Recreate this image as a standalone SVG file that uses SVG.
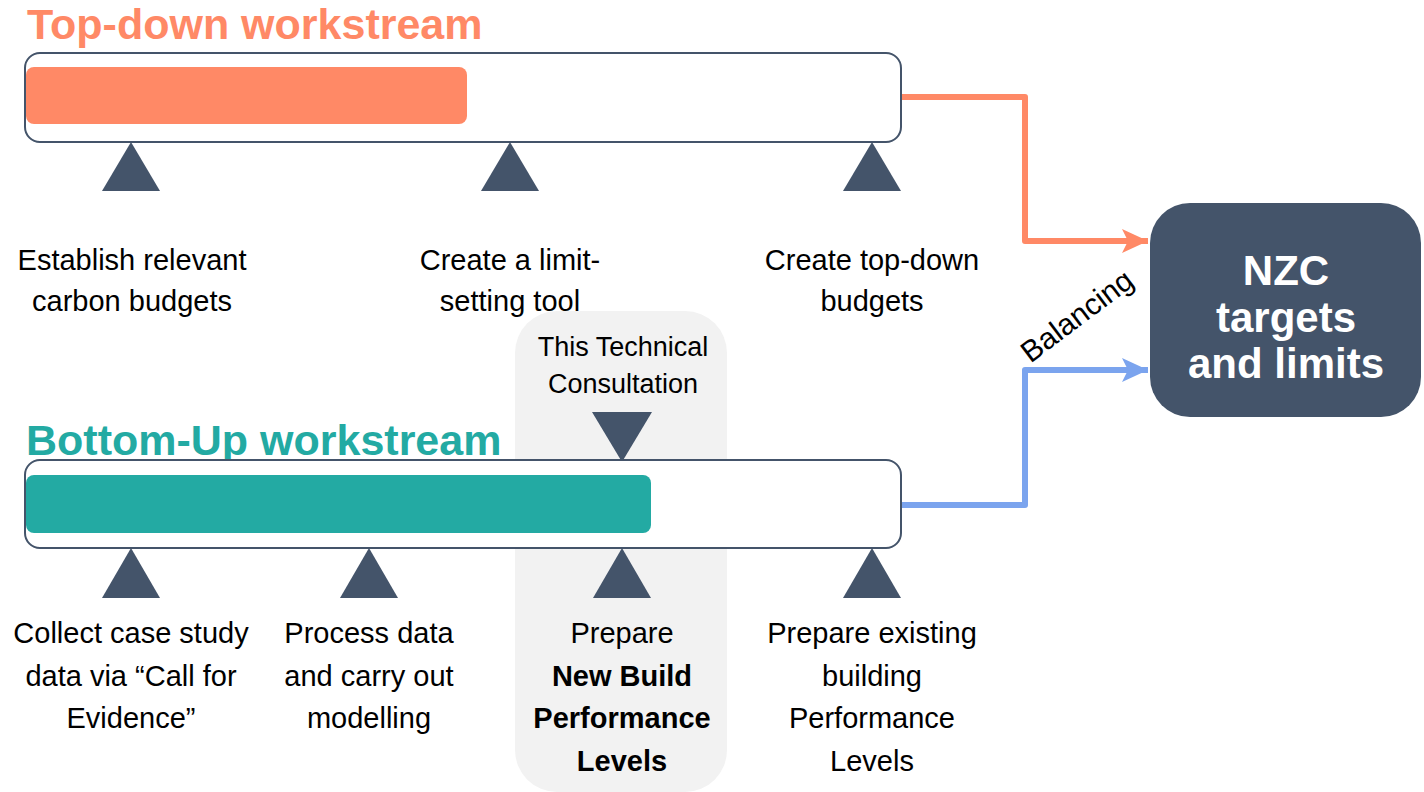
<svg xmlns="http://www.w3.org/2000/svg" width="1424" height="792" viewBox="0 0 1424 792">
<style>
.title{font-family:"Liberation Sans",Arial,sans-serif;font-weight:bold;font-size:43px}
.lbl{font-family:"Liberation Sans",Arial,sans-serif;font-size:29px;fill:#000;text-anchor:middle}
.b{font-weight:bold}
.frame{fill:#fff;stroke:#44546A;stroke-width:2}
.tri{fill:#44546A}
.conn{fill:none;stroke-width:6;stroke-linejoin:round}
.nzc{font-family:"Liberation Sans",Arial,sans-serif;font-weight:bold;font-size:42px;fill:#fff;text-anchor:middle}
</style>
<defs>
<marker id="arrO" markerUnits="userSpaceOnUse" markerWidth="30" markerHeight="30" refX="26" refY="13" orient="auto">
<path d="M26,13 L0,1 L6,13 L0,25 Z" fill="#FF8966"/>
</marker>
<marker id="arrB" markerUnits="userSpaceOnUse" markerWidth="30" markerHeight="30" refX="26" refY="13" orient="auto">
<path d="M26,13 L0,1 L6,13 L0,25 Z" fill="#7BA4EE"/>
</marker>
</defs>
<rect width="1424" height="792" fill="#fff"/>

<g id="consultation-highlight">
<rect x="515" y="311" width="212" height="481" rx="42" fill="#F2F2F2"/>
<text class="lbl" x="623" y="356" style="font-size:27px">This Technical</text>
<text class="lbl" x="623" y="393" style="font-size:27px">Consultation</text>
<polygon class="tri" points="592,412 652,412 622,462"/>
</g>

<g id="top-down">
<text class="title" x="27" y="39" fill="#FF8966">Top-down workstream</text>
<rect class="frame" x="25" y="53" width="876" height="89" rx="15"/>
<rect x="26" y="67" width="441" height="57" rx="8" fill="#FF8966"/>
</g>

<g id="td-step1">
<polygon class="tri" points="131,142 102,191 160,191"/>
<text class="lbl" x="132" y="270">Establish relevant</text>
<text class="lbl" x="132" y="311">carbon budgets</text>
</g>
<g id="td-step2">
<polygon class="tri" points="510,142 481,191 539,191"/>
<text class="lbl" x="510" y="270">Create a limit-</text>
<text class="lbl" x="510" y="311">setting tool</text>
</g>
<g id="td-step3">
<polygon class="tri" points="872,142 843,191 901,191"/>
<text class="lbl" x="872" y="270">Create top-down</text>
<text class="lbl" x="872" y="311">budgets</text>
</g>

<g id="bottom-up">
<text class="title" x="26" y="455" fill="#23AAA3">Bottom-Up workstream</text>
<rect class="frame" x="25" y="460" width="876" height="88" rx="15"/>
<rect x="26" y="475" width="625" height="58" rx="8" fill="#23AAA3"/>
</g>

<g id="bu-step1">
<polygon class="tri" points="131,548 102,598 160,598"/>
<text class="lbl" x="131" y="643">Collect case study</text>
<text class="lbl" x="131" y="685.5">data via “Call for</text>
<text class="lbl" x="131" y="728">Evidence”</text>
</g>
<g id="bu-step2">
<polygon class="tri" points="369,548 340,598 398,598"/>
<text class="lbl" x="369" y="643">Process data</text>
<text class="lbl" x="369" y="685.5">and carry out</text>
<text class="lbl" x="369" y="728">modelling</text>
</g>
<g id="bu-step3">
<polygon class="tri" points="622,548 593,598 651,598"/>
<text class="lbl" x="622" y="643">Prepare</text>
<text class="lbl b" x="622" y="685.5">New Build</text>
<text class="lbl b" x="622" y="728">Performance</text>
<text class="lbl b" x="622" y="770.5">Levels</text>
</g>
<g id="bu-step4">
<polygon class="tri" points="872,548 843,598 901,598"/>
<text class="lbl" x="872" y="643">Prepare existing</text>
<text class="lbl" x="872" y="685.5">building</text>
<text class="lbl" x="872" y="728">Performance</text>
<text class="lbl" x="872" y="770.5">Levels</text>
</g>

<g id="connectors">
<path class="conn" d="M902,97 H1025 V241 H1148" stroke="#FF8966" marker-end="url(#arrO)"/>
<path class="conn" d="M902,505 H1025 V370 H1148" stroke="#7BA4EE" marker-end="url(#arrB)"/>
<text class="lbl" transform="translate(1077,316) rotate(-37)" x="0" y="10" style="font-size:30px">Balancing</text>
</g>

<g id="nzc">
<rect x="1150" y="203" width="271" height="214" rx="40" fill="#44546A"/>
<text class="nzc" x="1286" y="285">NZC</text>
<text class="nzc" x="1286" y="332">targets</text>
<text class="nzc" x="1286" y="378">and limits</text>
</g>
</svg>
